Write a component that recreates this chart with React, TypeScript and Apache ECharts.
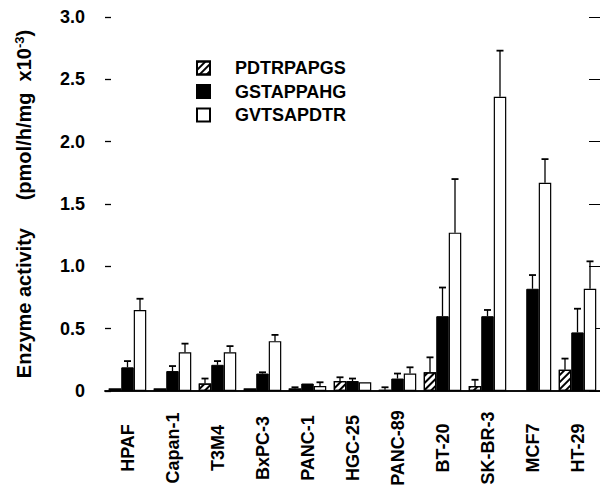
import React, { useEffect, useRef } from "react";
import * as echarts from "echarts";

const categories = ["HPAF", "Capan-1", "T3M4", "BxPC-3", "PANC-1", "HGC-25", "PANC-89", "BT-20", "SK-BR-3", "MCF7", "HT-29"];
const seriesNames = ["PDTRPAPGS", "GSTAPPAHG", "GVTSAPDTR"];
const pdtrpapgs = [0.02, 0.02, 0.06, 0.02, 0.02, 0.08, 0.01, 0.15, 0.04, null, 0.17];
const pdtrpapgsErr = [0, 0, 0.04, 0, 0.01, 0.03, 0.02, 0.12, 0.05, 0, 0.09];
const gstappahg = [0.19, 0.16, 0.21, 0.14, 0.06, 0.08, 0.1, 0.6, 0.6, 0.82, 0.47];
const gstappahgErr = [0.05, 0.04, 0.03, 0.01, 0, 0.02, 0.04, 0.23, 0.05, 0.11, 0.19];
const gvtsapdtr = [0.65, 0.31, 0.31, 0.4, 0.04, 0.07, 0.14, 1.27, 2.36, 1.67, 0.82];
const gvtsapdtrErr = [0.09, 0.07, 0.05, 0.05, 0.03, 0, 0.05, 0.43, 0.37, 0.19, 0.22];
const yTicks = [0, 0.5, 1.0, 1.5, 2.0, 2.5, 3.0];

const FONT = "'Liberation Sans', Arial, Helvetica, sans-serif";
const BAR_W = 12.5;

export default function App() {
  const ref = useRef<HTMLDivElement>(null);
  useEffect(() => {
    if (!ref.current) return;
    const chart = echarts.init(ref.current, null, { renderer: "svg" });
    const values = [pdtrpapgs, gstappahg, gvtsapdtr];
    const errs = [pdtrpapgsErr, gstappahgErr, gvtsapdtrErr];
    const hatch = {
      symbol: "rect",
      symbolSize: 1,
      dashArrayX: [1, 0],
      dashArrayY: [2, 3],
      rotation: -Math.PI / 4,
      color: "#000",
      backgroundColor: "#fff",
    };
    const barStyles = [
      { color: "#fff", borderColor: "#000", borderWidth: 1.2, decal: hatch },
      { color: "#000", borderColor: "#000", borderWidth: 1 },
      { color: "#fff", borderColor: "#000", borderWidth: 1.2 },
    ];
    const bars = seriesNames.map((n, s) => ({
      name: n,
      type: "bar",
      barWidth: BAR_W,
      barGap: "0%",
      data: values[s],
      itemStyle: barStyles[s],
      z: 2,
    }));
    const errSeries = seriesNames.map((n, s) => ({
      name: "err-" + n,
      type: "custom",
      z: 3,
      data: categories.map((c, i) => [i, values[s][i], errs[s][i]]),
      renderItem: (params: any, api: any) => {
        const idx = api.value(0);
        const v = api.value(1);
        const e = api.value(2);
        if (v == null || isNaN(v) || !e) return null;
        const p0 = api.coord([idx, v]);
        const p1 = api.coord([idx, v + e]);
        const cx = p0[0] + (s - 1) * BAR_W;
        return {
          type: "group",
          children: [
            { type: "line", shape: { x1: cx, y1: p0[1], x2: cx, y2: p1[1] }, style: { stroke: "#000", lineWidth: 1.3 } },
            { type: "line", shape: { x1: cx - 3.5, y1: p1[1], x2: cx + 3.5, y2: p1[1] }, style: { stroke: "#000", lineWidth: 1.8 } },
          ],
        };
      },
    }));
    chart.setOption({
      animation: false,
      backgroundColor: "#fff",
      textStyle: { fontFamily: FONT },
      grid: { left: 105, top: 17, width: 504, bottom: 102, containLabel: false },
      legend: {
        data: seriesNames,
        orient: "vertical",
        left: 191,
        top: 54,
        itemWidth: 13,
        itemHeight: 13,
        itemGap: 5.5,
        icon: "rect",
        selectedMode: false,
        textStyle: { fontSize: 18, fontWeight: "bold", color: "#000", fontFamily: FONT, lineHeight: 18, padding: [0, 0, 0, 20] },
      },
      xAxis: [
        {
          type: "category",
          data: categories,
          axisLine: { lineStyle: { color: "#000", width: 1.5 } },
          axisTick: { inside: true, length: 7, lineStyle: { color: "#000" } },
          axisLabel: {
            rotate: 90,
            interval: 0,
            align: "center",
            verticalAlign: "middle",
            margin: 57,
            fontSize: 18,
            fontWeight: "bold",
            color: "#000",
            fontFamily: FONT,
          },
        },
        {
          type: "category",
          position: "top",
          data: categories,
          axisLine: { lineStyle: { color: "#000", width: 1.5 } },
          axisTick: { inside: true, length: 6, lineStyle: { color: "#000" } },
          axisLabel: { show: false },
        },
      ],
      yAxis: [
        {
          type: "value",
          min: yTicks[0],
          max: yTicks[yTicks.length - 1],
          interval: 0.5,
          name: "Enzyme activity     (pmol/h/mg  x10{sup|-3})",
          nameLocation: "middle",
          nameGap: 70,
          nameTextStyle: {
            fontSize: 20,
            fontWeight: "bold",
            color: "#000",
            fontFamily: FONT,
            lineHeight: 22,
            rich: {
              sup: { fontSize: 13, fontWeight: "bold", color: "#000", fontFamily: FONT, verticalAlign: "top", lineHeight: 22, padding: [0, 0, 8, 0] },
            },
          },
          axisLine: { show: false },
          axisTick: { show: true, inside: true, length: 6, lineStyle: { color: "#000", width: 1.3 } },
          splitLine: { show: false },
          axisLabel: {
            margin: 20,
            fontSize: 18,
            fontWeight: "bold",
            color: "#000",
            fontFamily: FONT,
            formatter: (v: number) => (v === 0 ? "0" : v.toFixed(1)),
          },
        },
        {
          type: "value",
          position: "right",
          min: yTicks[0],
          max: yTicks[yTicks.length - 1],
          interval: 0.5,
          axisLine: { show: false },
          axisTick: { show: true, inside: true, length: 11, lineStyle: { color: "#000" } },
          axisLabel: { show: false },
          splitLine: { show: false },
        },
      ],
      series: [...bars, ...errSeries],
    });
    return () => chart.dispose();
  }, []);
  return <div ref={ref} style={{ position: "fixed", left: 0, top: 0, width: 600, height: 493 }} />;
}
